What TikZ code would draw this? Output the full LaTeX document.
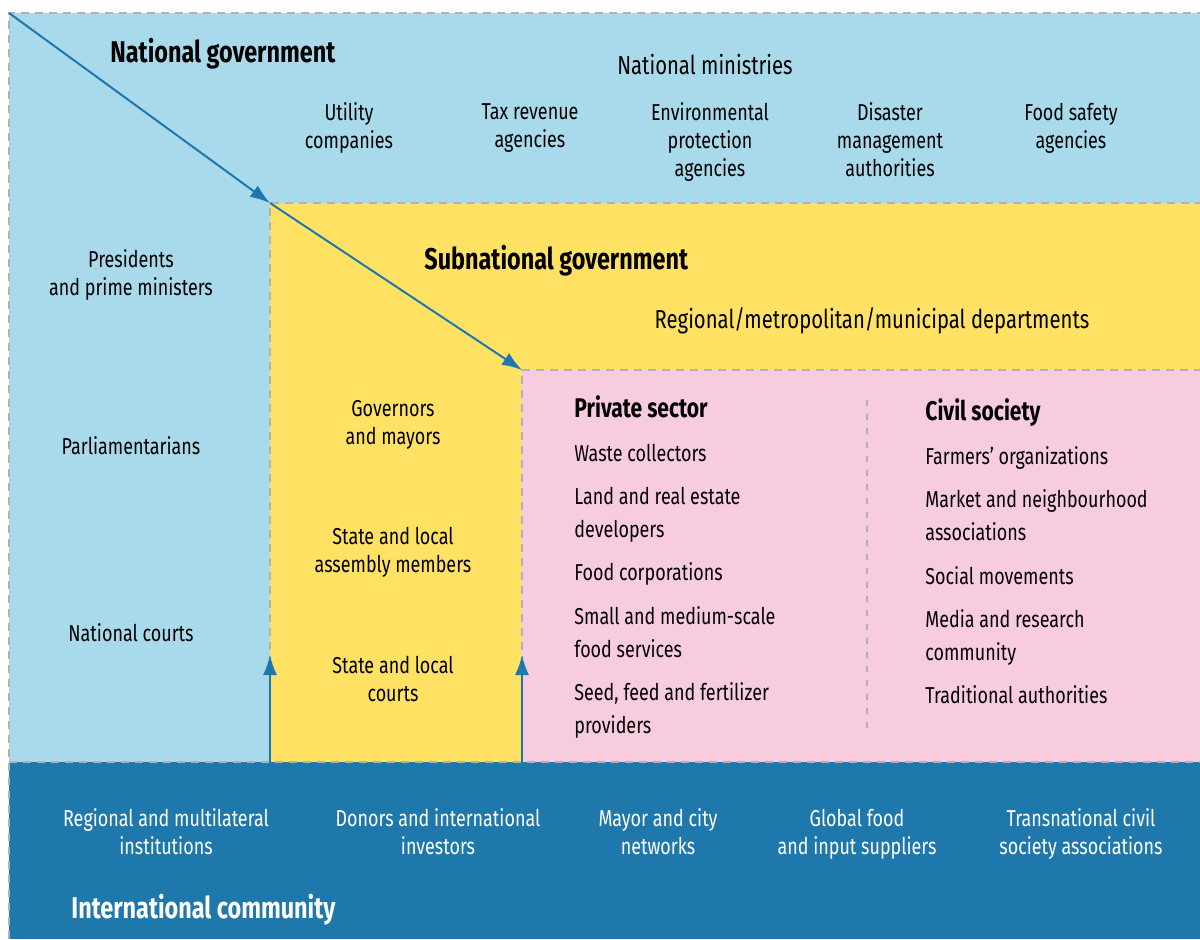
\documentclass[tikz,border=0pt]{standalone}
\usepackage{fontspec}
\setmainfont{Fira Sans}[FakeStretch=0.78]
\usetikzlibrary{arrows.meta, positioning}

\definecolor{natblue}{RGB}{168,218,236}
\definecolor{subyellow}{RGB}{255,226,99}
\definecolor{privpink}{RGB}{248,204,224}
\definecolor{intblue}{RGB}{31,120,171}
\definecolor{edgegray}{RGB}{178,178,178}

\begin{document}
\begin{tikzpicture}[x=0.5pt, y=-0.5pt,
    border/.style={draw=edgegray, line width=1pt, dash pattern=on 4pt off 3pt},
    flow/.style={draw=intblue, line width=1pt, -{Latex[length=10pt,width=7pt]}},
    actor/.style={align=center, inner sep=0pt, font=\fontsize{11.5}{14}\selectfont},
    grouplabel/.style={align=center, inner sep=0pt, font=\fontsize{13}{16}\selectfont},
    listitem/.style={anchor=base west, align=left, inner sep=0pt, font=\fontsize{11.5}{16.5}\selectfont},
    heading/.style={inner sep=0pt, anchor=base west, font=\fontsize{15}{18}\selectfont\bfseries},
    subheading/.style={inner sep=0pt, anchor=base west, font=\fontsize{13.5}{16}\selectfont\bfseries}]
    \useasboundingbox (0,0) rectangle (1200,939);

    % regions
    \coordinate (natNW) at (9,13);
    \coordinate (subNW) at (270,203);
    \coordinate (privNW) at (522,370);
    \coordinate (intNW) at (9,762);
    \coordinate (subSW) at (270,762);
    \coordinate (privSW) at (522,762);
    \coordinate (farSE) at (1200,939);
    \fill[natblue] (natNW) rectangle (farSE);
    \fill[subyellow] (subNW) rectangle (1200,762);
    \fill[privpink] (privNW) rectangle (1200,762);
    \fill[intblue] (intNW) rectangle (farSE);
    \draw[border] (9,939) |- (1200,13);
    \draw[border] (subSW) |- (1200,203);
    \draw[border] (privSW) |- (1200,370);
    \draw[border] (intNW) -- (1200,762);
    \draw[draw=edgegray, line width=0.6pt, dash pattern=on 3pt off 4pt] (867,400) -- (867,735);

    % arrows
    \coordinate (subUp) at (270,655);
    \coordinate (privUp) at (522,655);
    \draw[flow] (natNW) -- (subNW);
    \draw[flow] (subNW) -- (privNW);
    \draw[flow] (subSW) -- (subUp);
    \draw[flow] (privSW) -- (privUp);

    % national government
    \node[heading] (natTitle) at (110,62) {National government};
    \node[grouplabel] (ministries) at (705,65) {National ministries};
    \node[actor] (utility) at (349,128) {Utility\\companies};
    \node[actor] (taxRev) at (530,128) {Tax revenue\\agencies};
    \node[actor] (envProt) at (710,142) {Environmental\\protection\\agencies};
    \node[actor] (disaster) at (890,140) {Disaster\\management\\authorities};
    \node[actor] (foodSafety) at (1071,128) {Food safety\\agencies};
    \node[actor] (presidents) at (131,275) {Presidents\\and prime ministers};
    \node[actor] (parliament) at (131,446) {Parliamentarians};
    \node[actor] (natCourts) at (131,633) {National courts};

    % subnational government
    \node[heading] (subTitle) at (424,269) {Subnational government};
    \node[grouplabel] (regDepts) at (872,321) {Regional/metropolitan/municipal departments};
    \node[actor] (governors) at (393,425) {Governors\\and mayors};
    \node[actor] (assembly) at (393,552) {State and local\\assembly members};
    \node[actor] (localCourts) at (393,679) {State and local\\courts};

    % private sector
    \node[subheading] (privTitle) at (574,417) {Private sector};
    \node[listitem] (waste) at (574,461) {Waste collectors};
    \node[listitem] (realEstate) at (574,537) {Land and real estate\\developers};
    \node[listitem] (foodCorp) at (574,580) {Food corporations};
    \node[listitem] (smeFood) at (574,657) {Small and medium-scale\\food services};
    \node[listitem] (seedFeed) at (574,733) {Seed, feed and fertilizer\\providers};

    % civil society
    \node[subheading] (civTitle) at (925,420) {Civil society};
    \node[listitem] (farmers) at (925,464) {Farmers’ organizations};
    \node[listitem] (market) at (925,540) {Market and neighbourhood\\associations};
    \node[listitem] (socialMov) at (925,584) {Social movements};
    \node[listitem] (media) at (925,660) {Media and research\\community};
    \node[listitem] (tradAuth) at (925,703) {Traditional authorities};

    % international community
    \node[actor, white] (regInst) at (166,832) {Regional and multilateral\\institutions};
    \node[actor, white] (donors) at (438,832) {Donors and international\\investors};
    \node[actor, white] (cityNet) at (658,832) {Mayor and city\\networks};
    \node[actor, white] (globalFood) at (857,834) {Global food\\and input suppliers};
    \node[actor, white] (transCivil) at (1081,834) {Transnational civil\\society associations};
    \node[heading, white] (intTitle) at (71,918) {International community};
\end{tikzpicture}
\end{document}
